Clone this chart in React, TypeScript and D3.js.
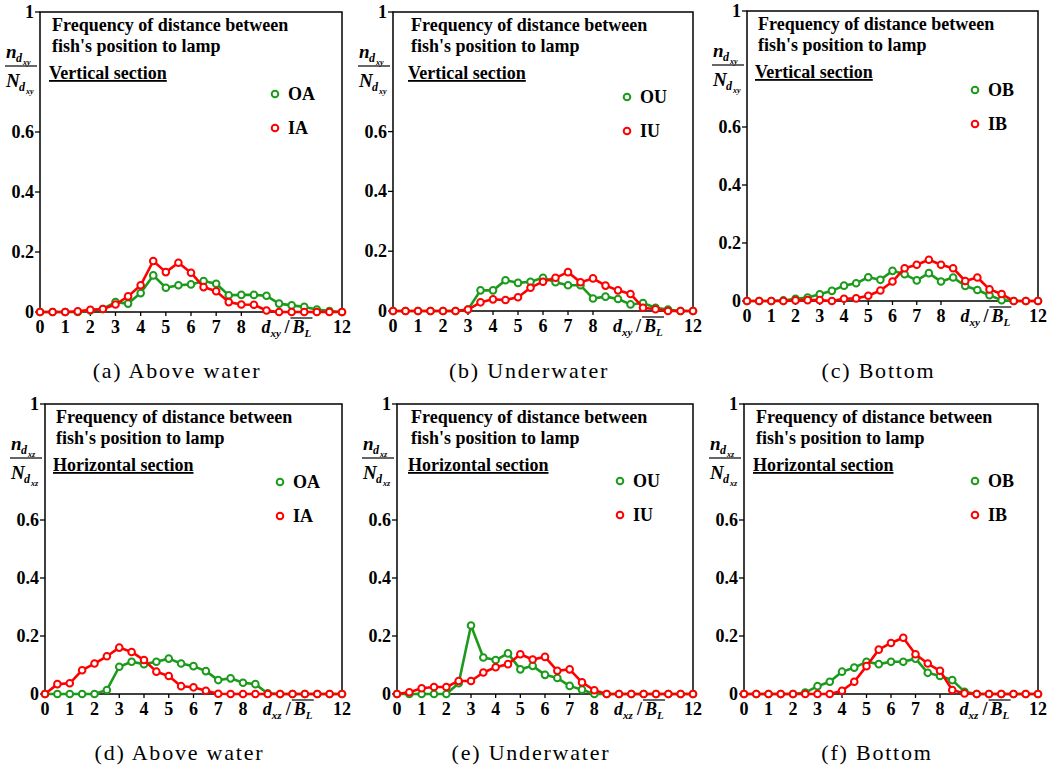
import React from "react";
import * as d3 from "d3";

const xValues = [0, 0.5, 1, 1.5, 2, 2.5, 3, 3.5, 4, 4.5, 5, 5.5, 6, 6.5, 7, 7.5, 8, 8.5, 9, 9.5, 10, 10.5, 11, 11.5, 12];

const aOA = [0, 0, 0, 0, 0.005, 0.01, 0.033, 0.028, 0.063, 0.122, 0.081, 0.089, 0.092, 0.103, 0.094, 0.056, 0.057, 0.057, 0.054, 0.028, 0.022, 0.017, 0.008, 0.003, 0];
const aIA = [0, 0, 0, 0.002, 0.007, 0.01, 0.025, 0.052, 0.089, 0.17, 0.133, 0.164, 0.131, 0.083, 0.069, 0.033, 0.025, 0.024, 0.005, 0, 0, 0, 0, 0, 0];
const bOU = [0, 0, 0, 0, 0, 0, 0.005, 0.069, 0.069, 0.103, 0.094, 0.098, 0.111, 0.096, 0.086, 0.086, 0.042, 0.048, 0.04, 0.022, 0.027, 0.011, 0.005, 0, 0];
const bIU = [0, 0, 0, 0, 0, 0, 0.005, 0.029, 0.039, 0.037, 0.046, 0.078, 0.098, 0.111, 0.13, 0.096, 0.109, 0.085, 0.069, 0.057, 0.011, 0.006, 0, 0, 0];
const cOB = [0, 0, 0, 0.002, 0.008, 0.012, 0.023, 0.035, 0.053, 0.061, 0.082, 0.073, 0.104, 0.092, 0.071, 0.096, 0.067, 0.081, 0.052, 0.038, 0.02, 0.003, 0, 0, 0];
const cIB = [0, 0, 0, 0, 0.002, 0.003, 0.003, 0, 0.008, 0.009, 0.018, 0.036, 0.067, 0.113, 0.125, 0.142, 0.125, 0.113, 0.069, 0.081, 0.04, 0.024, 0, 0, 0];
const dOA = [0, 0, 0, 0, 0, 0.014, 0.094, 0.111, 0.103, 0.111, 0.122, 0.105, 0.096, 0.079, 0.048, 0.054, 0.039, 0.034, 0.002, 0, 0, 0, 0, 0, 0];
const dIA = [0, 0.034, 0.037, 0.082, 0.105, 0.13, 0.16, 0.145, 0.117, 0.077, 0.062, 0.027, 0.023, 0.011, 0.001, 0, 0, 0, 0, 0, 0, 0, 0, 0, 0];
const eOU = [0, 0, 0, 0, 0, 0.037, 0.236, 0.126, 0.117, 0.14, 0.085, 0.097, 0.066, 0.055, 0.028, 0.015, 0, 0, 0, 0, 0, 0, 0, 0, 0];
const eIU = [0, 0.006, 0.02, 0.024, 0.024, 0.045, 0.045, 0.074, 0.092, 0.103, 0.137, 0.119, 0.128, 0.08, 0.085, 0.04, 0.013, 0, 0, 0, 0, 0, 0, 0, 0];
const fOB = [0, 0, 0, 0, 0, 0.005, 0.027, 0.042, 0.077, 0.091, 0.111, 0.103, 0.111, 0.111, 0.122, 0.073, 0.062, 0.048, 0.008, 0, 0, 0, 0, 0, 0];
const fIB = [0, 0, 0, 0, 0, 0, 0, 0, 0.011, 0.042, 0.096, 0.153, 0.176, 0.194, 0.137, 0.105, 0.08, 0.014, 0.002, 0, 0, 0, 0, 0, 0];

const xTickLabels = [0, 1, 2, 3, 4, 5, 6, 7, 8, 12];
const yTickLabels = [0, 0.2, 0.4, 0.6, 1];
const annotationLines = ["Frequency of distance between", "fish's position to lamp"];

const GREEN = "#1b9a1b";
const RED = "#ff0000";
const FONT = "'Liberation Serif', 'Times New Roman', serif";

type PanelCfg = {
  x0: number; x1: number; top: number; bottom: number;
  green: number[]; red: number[]; gName: string; rName: string;
  section: string; sub: string; caption: string; capY: number;
  textX: number; legX: number; legY: number;
};

const panels: PanelCfg[] = [
  { x0: 40, x1: 342, top: 12, bottom: 312, green: aOA, red: aIA, gName: "OA", rName: "IA", section: "Vertical section", sub: "xy", caption: "(a) Above water", capY: 378, textX: 52, legX: 275, legY: 94 },
  { x0: 393, x1: 693, top: 12, bottom: 311, green: bOU, red: bIU, gName: "OU", rName: "IU", section: "Vertical section", sub: "xy", caption: "(b) Underwater", capY: 378, textX: 411, legX: 627, legY: 97 },
  { x0: 747, x1: 1038, top: 11, bottom: 301, green: cOB, red: cIB, gName: "OB", rName: "IB", section: "Vertical section", sub: "xy", caption: "(c) Bottom", capY: 378, textX: 758, legX: 975, legY: 90 },
  { x0: 45, x1: 342, top: 404, bottom: 694, green: dOA, red: dIA, gName: "OA", rName: "IA", section: "Horizontal section", sub: "xz", caption: "(d) Above water", capY: 760, textX: 56, legX: 280, legY: 482 },
  { x0: 397, x1: 693, top: 404, bottom: 694, green: eOU, red: eIU, gName: "OU", rName: "IU", section: "Horizontal section", sub: "xz", caption: "(e) Underwater", capY: 760, textX: 411, legX: 620, legY: 481 },
  { x0: 744, x1: 1038, top: 404, bottom: 694, green: fOB, red: fIB, gName: "OB", rName: "IB", section: "Horizontal section", sub: "xz", caption: "(f) Bottom", capY: 760, textX: 756, legX: 975, legY: 481 },
];

function Panel({ p }: { p: PanelCfg }) {
  const x = d3.scaleLinear().domain([0, 12]).range([p.x0, p.x1]);
  const y = d3.scaleLinear().domain([0, 1]).range([p.bottom, p.top]);
  const line = d3.line<number>().x((_, i) => x(xValues[i])).y((v) => y(v));
  const series = [
    { vals: p.green, color: GREEN },
    { vals: p.red, color: RED },
  ];
  const dX = x(8.8);
  const lblY = p.bottom + 21;
  const capX = (p.x0 + p.x1) / 2 - 14;
  return (
    <g>
      <rect x={p.x0} y={p.top} width={p.x1 - p.x0} height={p.bottom - p.top} fill="none" stroke="#000" strokeWidth={1.5} />
      {yTickLabels.map((t) => (
        <g key={"y" + t}>
          <line x1={p.x0 - 5} x2={p.x0} y1={y(t)} y2={y(t)} stroke="#000" strokeWidth={1.3} />
          <text x={p.x0 - 6} y={y(t) + 6} textAnchor="end" fontSize={18} fontWeight="bold" fontFamily={FONT}>{t}</text>
        </g>
      ))}
      {xTickLabels.map((t) => (
        <g key={"x" + t}>
          <line x1={x(t)} x2={x(t)} y1={p.bottom} y2={p.bottom + 4} stroke="#000" strokeWidth={1.3} />
          <text x={x(t)} y={lblY} textAnchor="middle" fontSize={18} fontWeight="bold" fontFamily={FONT}>{t}</text>
        </g>
      ))}
      <text x={dX} y={lblY} fontSize={18} fontWeight="bold" fontStyle="italic" fontFamily={FONT}>d</text>
      <text x={dX + 9} y={lblY + 4} fontSize={11} fontWeight="bold" fontStyle="italic" fontFamily={FONT}>{p.sub}</text>
      <text x={dX + 23} y={lblY} fontSize={18} fontWeight="bold" fontFamily={FONT}>/</text>
      <text x={dX + 31} y={lblY} fontSize={18} fontWeight="bold" fontStyle="italic" fontFamily={FONT}>B</text>
      <text x={dX + 43} y={lblY + 4} fontSize={11} fontWeight="bold" fontStyle="italic" fontFamily={FONT}>L</text>
      <line x1={dX + 29} x2={dX + 51} y1={lblY - 15} y2={lblY - 15} stroke="#000" strokeWidth={1.2} />
      <text x={p.x0 - 34} y={p.top + 46} fontSize={19} fontWeight="bold" fontStyle="italic" fontFamily={FONT}>n</text>
      <text x={p.x0 - 24} y={p.top + 50} fontSize={12} fontWeight="bold" fontStyle="italic" fontFamily={FONT}>d</text>
      <text x={p.x0 - 17} y={p.top + 53} fontSize={8} fontWeight="bold" fontStyle="italic" fontFamily={FONT}>{p.sub}</text>
      <line x1={p.x0 - 35} x2={p.x0 - 3} y1={p.top + 54} y2={p.top + 54} stroke="#000" strokeWidth={1.2} />
      <text x={p.x0 - 34} y={p.top + 75} fontSize={19} fontWeight="bold" fontStyle="italic" fontFamily={FONT}>N</text>
      <text x={p.x0 - 21} y={p.top + 79} fontSize={12} fontWeight="bold" fontStyle="italic" fontFamily={FONT}>d</text>
      <text x={p.x0 - 14} y={p.top + 82} fontSize={8} fontWeight="bold" fontStyle="italic" fontFamily={FONT}>{p.sub}</text>
      {annotationLines.map((s, i) => (
        <text key={s} x={p.textX} y={p.top + 19 + i * 21} fontSize={18} fontWeight="bold" fontFamily={FONT}>{s}</text>
      ))}
      <text x={p.textX - 3} y={p.top + 67} fontSize={18} fontWeight="bold" fontFamily={FONT} textDecoration="underline">{p.section}</text>
      {series.map((s, si) => (
        <g key={si}>
          <path d={line(s.vals) || ""} fill="none" stroke={s.color} strokeWidth={2.6} strokeLinejoin="round" />
          {s.vals.map((v, i) => (
            <circle key={i} cx={x(xValues[i])} cy={y(v)} r={3.3} fill="#fff" stroke={s.color} strokeWidth={2} />
          ))}
        </g>
      ))}
      <circle cx={p.legX} cy={p.legY} r={3.3} fill="#fff" stroke={GREEN} strokeWidth={2} />
      <text x={p.legX + 13} y={p.legY + 6} fontSize={18} fontWeight="bold" fontFamily={FONT}>{p.gName}</text>
      <circle cx={p.legX} cy={p.legY + 34} r={3.3} fill="#fff" stroke={RED} strokeWidth={2} />
      <text x={p.legX + 13} y={p.legY + 40} fontSize={18} fontWeight="bold" fontFamily={FONT}>{p.rName}</text>
      <text x={capX} y={p.capY} textAnchor="middle" fontSize={22} fontFamily={FONT} letterSpacing={1.8}>{p.caption}</text>
    </g>
  );
}

export default function App() {
  return (
    <svg width={1047} height={771} style={{ position: "absolute", left: 0, top: 0, background: "#fff" }}>
      <rect width={1047} height={771} fill="#fff" />
      {panels.map((p, i) => (
        <Panel key={i} p={p} />
      ))}
    </svg>
  );
}
